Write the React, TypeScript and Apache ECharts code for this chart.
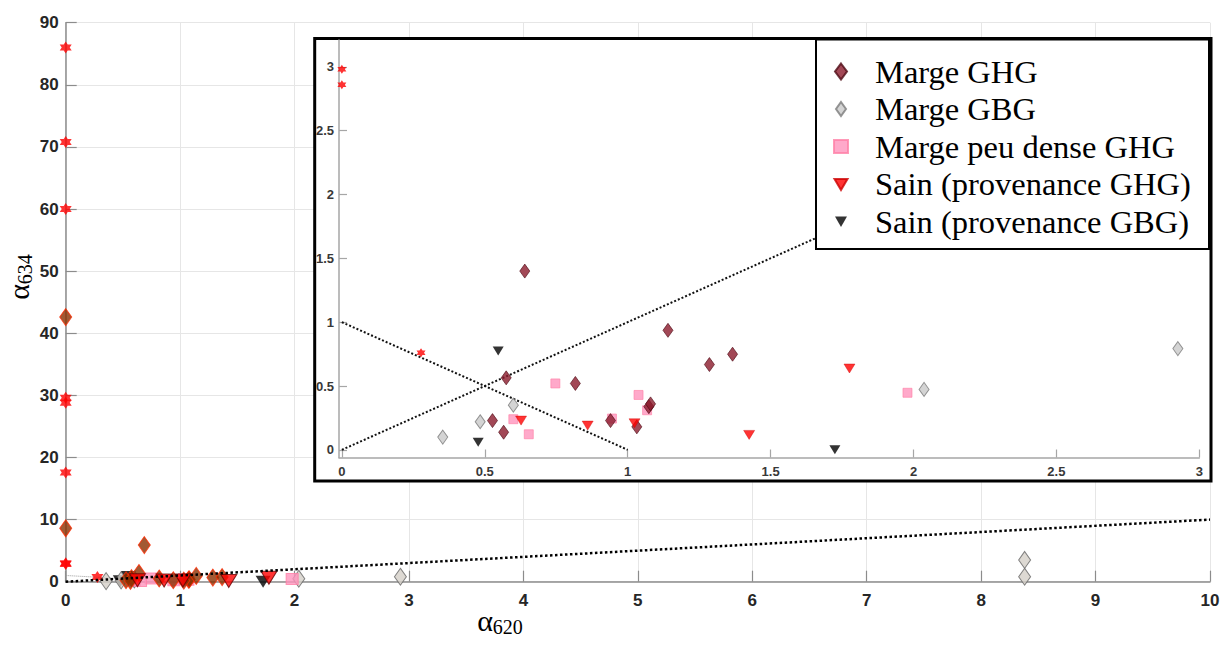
import React, { useEffect, useRef } from "react";
import * as echarts from "echarts";

// ---------- data ----------
// Marge GHG (dark diamonds)
const margeGHGX = [0, 0, 0.687, 0.64, 0.575, 0.817, 1.074, 1.08, 0.527, 0.566, 0.94, 1.032, 1.141, 1.286, 1.367];
const margeGHGY = [42.6, 8.6, 5.9, 1.4, 0.564, 0.52, 0.338, 0.36, 0.229, 0.138, 0.229, 0.18, 0.936, 0.668, 0.749];
// Marge GBG (grey diamonds)
const margeGBGX = [0.353, 0.484, 0.6, 2.037, 2.925, 8.38, 8.38];
const margeGBGY = [0.1, 0.22, 0.35, 0.473, 0.793, 0.8, 3.5];
// Marge peu dense GHG (pink squares)
const peuDenseX = [0.747, 1.038, 1.068, 0.6, 0.654, 0.945, 1.979];
const peuDenseY = [0.52, 0.43, 0.31, 0.24, 0.122, 0.245, 0.447];
// Sain (provenance GHG) (red triangles)
const sainGHGX = [0.627, 0.86, 1.024, 1.425, 1.776];
const sainGHGY = [0.229, 0.19, 0.208, 0.117, 0.637];
// Sain (provenance GBG) (black triangles)
const sainGBGX = [0.547, 0.477, 1.725];
const sainGBGY = [0.775, 0.06, 0.0];
// red stars (not in legend)
const starX = [0, 0, 0, 0, 0, 0, 0, 0, 0.277];
const starY = [86, 70.8, 60, 29.6, 28.8, 17.6, 2.98, 2.86, 0.76];
// reference lines
const mainDiagX = [0, 10];
const mainDiagY = [0, 10];
const antiDiagX = [0, 1];
const antiDiagY = [1, 0];
const insetDiagX = [0, 3];
const insetDiagY = [0, 3];
// inset tick values
const insetTicks = [0, 0.5, 1, 1.5, 2, 2.5, 3];

const legendNames = [
  "Marge GHG",
  "Marge GBG",
  "Marge peu dense GHG",
  "Sain (provenance GHG)",
  "Sain (provenance GBG)",
];

const zip = (xs: number[], ys: number[]) => xs.map((x, i) => [x, ys[i]]);

const SANS = "'Liberation Sans', Arial, Helvetica, sans-serif";
const SERIF = "'Liberation Serif', 'Times New Roman', serif";

const STAR =
  "path://M0,-10L2.887,-5L8.66,-5L5.774,0L8.66,5L2.887,5L0,10L-2.887,5L-8.66,5L-5.774,0L-8.66,-5L-2.887,-5Z";
const TRI = "path://M0,0L10,0L5,8.5Z";

const LEG_GHG = "path://M-8,-8M8,8M0,-8L6,0L0,8L-6,0Z";
const LEG_GBG = "path://M-8,-8M8,8M0,-7L5,0L0,7L-5,0Z";
const LEG_SQ = "path://M-8,-8M8,8M-7,-6.5L7,-6.5L7,6.5L-7,6.5Z";
const LEG_TRI = "path://M-8,-8M8,8M-6.5,-5L6.5,-5L0,6Z";
const LEG_TRI_B = "path://M-8,-8M8,8M-6,-5L6,-5L0,5.5Z";

export default function App() {
  const ref = useRef<HTMLDivElement>(null);

  useEffect(() => {
    if (!ref.current) return;
    const chart = echarts.init(ref.current, null, { renderer: "svg" });

    const mainAxisLine = { onZero: false, lineStyle: { color: "#8c8c8c", width: 1.5 } };
    const insetAxisLine = { onZero: false, lineStyle: { color: "#a6a6a6", width: 1.5 } };

    const mainScatter = (name: string, xs: number[], ys: number[], symbol: string, size: any, itemStyle: any) => ({
      type: "scatter",
      name,
      xAxisIndex: 0,
      yAxisIndex: 0,
      data: zip(xs, ys),
      symbol,
      symbolSize: size,
      itemStyle,
      clip: false,
      z: 2,
      silent: true,
    });
    const insetScatter = (name: string, xs: number[], ys: number[], symbol: string, size: any, itemStyle: any) => ({
      type: "scatter",
      name,
      xAxisIndex: 1,
      yAxisIndex: 1,
      data: zip(xs, ys),
      symbol,
      symbolSize: size,
      itemStyle,
      clip: true,
      z: 8,
      silent: true,
    });

    const option: any = {
      animation: false,
      backgroundColor: "#ffffff",
      grid: [
        { left: 65.7, right: 13, top: 22.7, bottom: 77.3, outerBoundsMode: "none" },
        { left: 339, right: 23.7, top: 40, bottom: 201.5, outerBoundsMode: "none", z: 6 },
      ],
      xAxis: [
        {
          gridIndex: 0,
          type: "value",
          min: 0,
          max: 10,
          interval: 1,
          axisLine: mainAxisLine,
          axisTick: { inside: true, length: 11, lineStyle: { color: "#8c8c8c", width: 1.2 } },
          axisLabel: { margin: 10, color: "#262626", fontWeight: "bold", fontSize: 17, fontFamily: SANS },
          splitLine: { show: true, lineStyle: { color: "#e6e6e6", width: 1 } },
        },
        {
          gridIndex: 1,
          type: "value",
          min: -0.01,
          max: 3,
          z: 6,
          axisLine: insetAxisLine,
          axisTick: { inside: true, length: 8, customValues: insetTicks, lineStyle: { color: "#a6a6a6", width: 1.2 } },
          axisLabel: { customValues: insetTicks, margin: 7, color: "#383838", fontWeight: "bold", fontSize: 13, fontFamily: SANS },
          splitLine: { show: false },
        },
      ],
      yAxis: [
        {
          gridIndex: 0,
          type: "value",
          min: 0,
          max: 90,
          interval: 10,
          axisLine: mainAxisLine,
          axisTick: { inside: true, length: 11, lineStyle: { color: "#8c8c8c", width: 1.2 } },
          axisLabel: { margin: 7, color: "#262626", fontWeight: "bold", fontSize: 17, fontFamily: SANS },
          splitLine: { show: true, lineStyle: { color: "#e6e6e6", width: 1 } },
        },
        {
          gridIndex: 1,
          type: "value",
          min: -0.06,
          max: 3.21,
          z: 6,
          axisLine: insetAxisLine,
          axisTick: { inside: true, length: 8, customValues: insetTicks, lineStyle: { color: "#a6a6a6", width: 1.2 } },
          axisLabel: { customValues: insetTicks, margin: 5, color: "#383838", fontWeight: "bold", fontSize: 13, fontFamily: SANS },
          splitLine: { show: false },
        },
      ],
      legend: {
        orient: "vertical",
        left: 832,
        top: 55,
        padding: 0,
        itemWidth: 58,
        itemHeight: 16,
        itemGap: 4.5,
        z: 10,
        selectedMode: false,
        textStyle: { fontFamily: SERIF, fontSize: 32.5, color: "#000" },
        data: [
          { name: legendNames[0], icon: LEG_GHG },
          { name: legendNames[1], icon: LEG_GBG },
          { name: legendNames[2], icon: LEG_SQ },
          { name: legendNames[3], icon: LEG_TRI },
          { name: legendNames[4], icon: LEG_TRI_B },
        ],
      },
      graphic: {
        elements: [
          {
            type: "rect",
            z: 5,
            zlevel: 0,
            silent: true,
            shape: { x: 314.7, y: 38.5, width: 896.3, height: 442.5 },
            style: { fill: "#ffffff", stroke: "#000000", lineWidth: 3 },
          },
          {
            type: "rect",
            z: 9,
            zlevel: 0,
            silent: true,
            shape: { x: 816, y: 39.5, width: 393, height: 209.5 },
            style: { fill: "#ffffff", stroke: "#000000", lineWidth: 2 },
          },
          {
            type: "text",
            z: 9,
            x: 18,
            y: 277,
            rotation: Math.PI / 2,
            style: {
              text: "{a|α}{s|634}",
              align: "center",
              verticalAlign: "middle",
              fill: "#000",
              rich: {
                a: { fontFamily: SERIF, fontSize: 30, lineHeight: 34, fill: "#000" },
                s: { fontFamily: SERIF, fontSize: 20, lineHeight: 20, verticalAlign: "bottom", fill: "#000" },
              },
            },
          },
          {
            type: "text",
            z: 9,
            x: 500,
            y: 620,
            style: {
              text: "{a|α}{s|620}",
              align: "center",
              verticalAlign: "middle",
              fill: "#000",
              rich: {
                a: { fontFamily: SERIF, fontSize: 30, lineHeight: 34, fill: "#000" },
                s: { fontFamily: SERIF, fontSize: 20, lineHeight: 20, verticalAlign: "bottom", fill: "#000" },
              },
            },
          },
        ],
      },
      series: [
        // ----- main chart -----
        mainScatter("Sain GBG principal", sainGBGX, sainGBGY, TRI, [15, 12], { color: "#000000" }),
        mainScatter("GBG principal", margeGBGX, margeGBGY, "diamond", [12, 17], { color: "#d4d0c8", borderColor: "#666666", borderWidth: 1 }),
        mainScatter("Peu dense principal", peuDenseX, peuDenseY, "rect", [12, 11], { color: "#ff94bd", borderColor: "#ff7fa6", borderWidth: 1 }),
        mainScatter("GHG principal", margeGHGX, margeGHGY, "diamond", [12, 17], { color: "#8b3000", borderColor: "#ff2a00", borderWidth: 1 }),
        mainScatter("Sain GHG principal", sainGHGX, sainGHGY, TRI, [16, 13], { color: "#ff0000", borderColor: "#660000", borderWidth: 1 }),
        mainScatter("Étoiles principal", starX, starY, STAR, 12, { color: "#ff0000" }),
        {
          type: "line",
          name: "y=x principal",
          xAxisIndex: 0,
          yAxisIndex: 0,
          data: zip(mainDiagX, mainDiagY),
          symbol: "none",
          lineStyle: { type: "dotted", width: 2.5, color: "#000" },
          z: 3,
          silent: true,
        },
        {
          type: "line",
          name: "y=1-x principal",
          xAxisIndex: 0,
          yAxisIndex: 0,
          data: zip(antiDiagX, antiDiagY),
          symbol: "none",
          lineStyle: { type: "dotted", width: 1, color: "#999" },
          z: 1,
          silent: true,
        },
        // ----- inset -----
        {
          type: "line",
          name: "y=x encart",
          xAxisIndex: 1,
          yAxisIndex: 1,
          data: zip(insetDiagX, insetDiagY),
          symbol: "none",
          lineStyle: { type: "dotted", width: 2, color: "#111" },
          z: 7,
          silent: true,
        },
        {
          type: "line",
          name: "y=1-x encart",
          xAxisIndex: 1,
          yAxisIndex: 1,
          data: zip(antiDiagX, antiDiagY),
          symbol: "none",
          lineStyle: { type: "dotted", width: 2, color: "#111" },
          z: 7,
          silent: true,
        },
        insetScatter(legendNames[1], margeGBGX, margeGBGY, "diamond", [10, 14], { color: "#c9c9c9", borderColor: "#7a7a7a", borderWidth: 1 }),
        insetScatter(legendNames[2], peuDenseX, peuDenseY, "rect", 9, { color: "#ff94bd", borderColor: "#ff7fa6", borderWidth: 0.8 }),
        insetScatter(legendNames[0], margeGHGX, margeGHGY, "diamond", [10, 14], { color: "#8b1a2c", borderColor: "#4d0a14", borderWidth: 0.8 }),
        insetScatter(legendNames[3], sainGHGX, sainGHGY, TRI, [11, 9], { color: "#ff0000", borderColor: "#cc0000", borderWidth: 0.5 }),
        insetScatter(legendNames[4], sainGBGX, sainGBGY, TRI, [11, 9], { color: "#000000" }),
        insetScatter("Étoiles", starX, starY, STAR, 9, { color: "#ff0000" }),
      ],
    };

    chart.setOption(option);
    return () => chart.dispose();
  }, []);

  return (
    <div
      ref={ref}
      style={{ position: "fixed", left: 0, top: 0, width: 1223, height: 659, background: "#fff" }}
    />
  );
}
